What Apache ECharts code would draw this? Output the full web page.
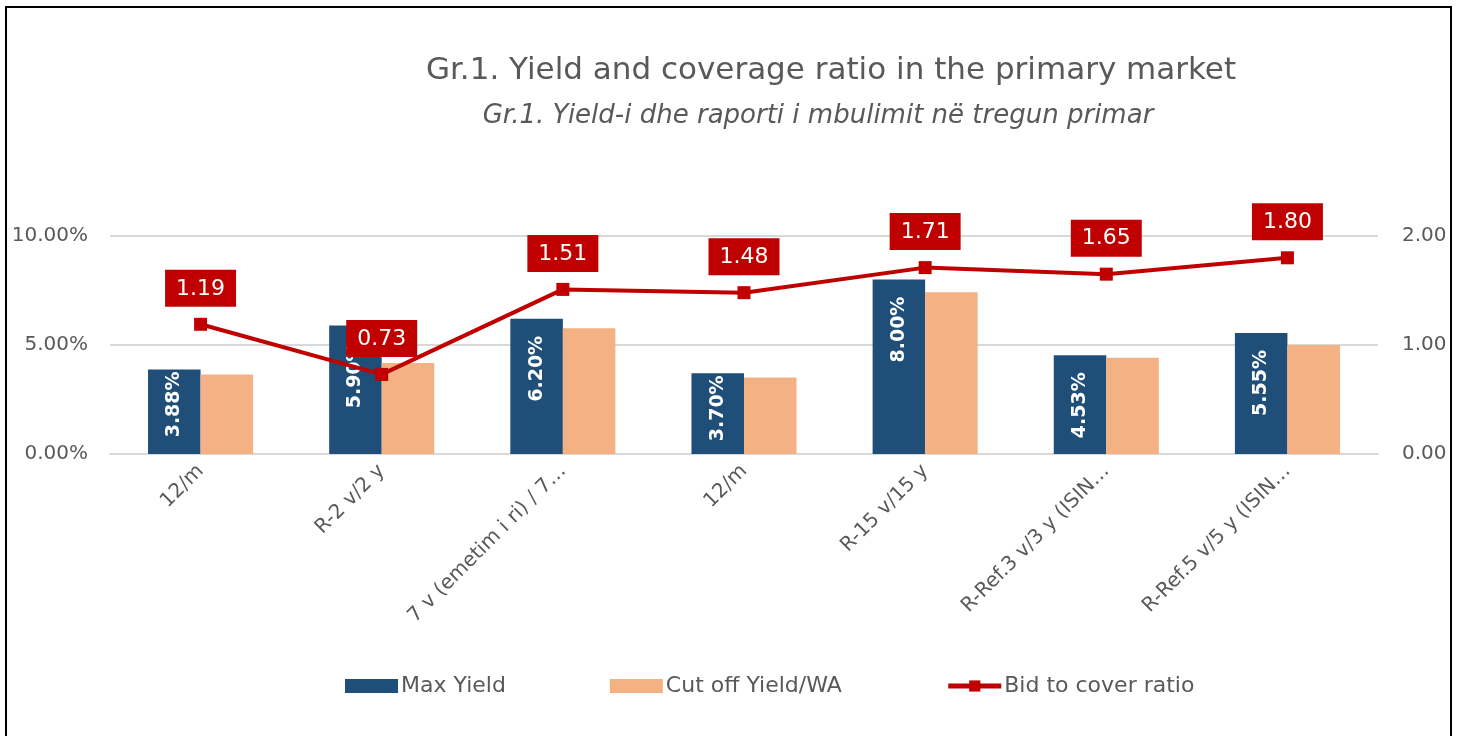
<!DOCTYPE html>
<html>
<head>
<meta charset="utf-8">
<title>Gr.1 Yield and coverage ratio</title>
<script src="https://cdn.jsdelivr.net/npm/echarts@6/dist/echarts.min.js"></script>
<style>
  html, body { margin: 0; padding: 0; background: #fff; }
  #chart { width: 1460px; height: 736px; }
</style>
</head>
<body>
<div id="chart"></div>
<script>
// emisionet
var categories = ['12/m', 'R-2 v/2 y', '7 v (emetim i ri) / 7…', '12/m', 'R-15 v/15 y', 'R-Ref.3 v/3 y (ISIN…', 'R-Ref.5 v/5 y (ISIN…'];
// yield ne %
var maxYield = [3.88, 5.90, 6.20, 3.70, 8.00, 4.53, 5.55];
var cutOffYield = [3.65, 4.17, 5.77, 3.51, 7.42, 4.42, 5.00];
// raporti i mbulimit
var bidToCover = [1.19, 0.73, 1.51, 1.48, 1.71, 1.65, 1.80];
var leftTicks = [0, 5, 10];
var rightTicks = [0, 1, 2];

var FONT = 'DejaVu Sans';
var grey = '#595959';

// etiketat brenda shtyllave - si ne excel, afer majes
var maxYieldData = maxYield.map(function (v) {
  return {
    value: v,
    label: { distance: v < 4 ? 2 : 17 }
  };
});

var myChart = echarts.init(document.getElementById('chart'));

var option = {
  animation: false,
  textStyle: { fontFamily: FONT },
  title: [
    {
      text: 'Gr.1. Yield and coverage ratio in the primary market',
      left: 826,
      top: 50,
      textAlign: 'center',
      textStyle: { fontFamily: FONT, fontSize: 31, fontWeight: 'normal', color: grey }
    },
    {
      text: 'Gr.1. Yield-i dhe raporti i mbulimit në tregun primar',
      left: 813,
      top: 98,
      textAlign: 'center',
      textStyle: { fontFamily: FONT, fontSize: 26, fontStyle: 'italic', fontWeight: 'normal', color: grey }
    }
  ],
  graphic: [
    {
      type: 'rect',
      shape: { x: 6, y: 7, width: 1445, height: 800 },
      style: { fill: 'none', stroke: '#000', lineWidth: 2 },
      silent: true
    }
  ],
  legend: {
    left: 340,
    top: 670,
    itemWidth: 53,
    itemHeight: 14,
    itemGap: 104,
    textStyle: { fontFamily: FONT, fontSize: 22, color: grey, padding: [0, 0, 0, -2] },
    data: [
      { name: 'Max Yield', icon: 'rect' },
      { name: 'Cut off Yield/WA', icon: 'rect' },
      { name: 'Bid to cover ratio', lineStyle: { width: 5 } }
    ]
  },
  grid: {
    left: 110,
    right: 82,
    top: 236,
    bottom: 282
  },
  xAxis: {
    type: 'category',
    data: categories,
    axisLine: { lineStyle: { color: '#D9D9D9', width: 2 } },
    axisTick: { show: false },
    axisLabel: {
      rotate: 45,
      interval: 0,
      margin: 14,
      fontFamily: FONT,
      fontSize: 20,
      color: grey
    }
  },
  yAxis: [
    {
      type: 'value',
      min: leftTicks[0],
      max: leftTicks[leftTicks.length - 1],
      interval: leftTicks[1] - leftTicks[0],
      axisLine: { show: false },
      axisTick: { show: false },
      splitLine: { lineStyle: { color: '#D9D9D9', width: 2 } },
      axisLabel: {
        margin: 22,
        fontFamily: FONT,
        fontSize: 20,
        color: grey,
        formatter: function (v) { return v.toFixed(2) + '%'; }
      }
    },
    {
      type: 'value',
      min: rightTicks[0],
      max: rightTicks[rightTicks.length - 1],
      interval: rightTicks[1] - rightTicks[0],
      axisLine: { show: false },
      axisTick: { show: false },
      splitLine: { show: false },
      axisLabel: {
        margin: 24,
        fontFamily: FONT,
        fontSize: 20,
        color: grey,
        formatter: function (v) { return v.toFixed(2); }
      }
    }
  ],
  series: [
    {
      name: 'Max Yield',
      type: 'bar',
      data: maxYieldData,
      barGap: '0%',
      barCategoryGap: '42%',
      itemStyle: { color: '#1F4E79' },
      label: {
        show: true,
        position: 'insideTop',
        rotate: 90,
        align: 'right',
        verticalAlign: 'middle',
        color: '#fff',
        fontFamily: FONT,
        fontWeight: 'bold',
        fontSize: 19,
        formatter: function (p) { return p.value.toFixed(2) + '%'; }
      }
    },
    {
      name: 'Cut off Yield/WA',
      type: 'bar',
      data: cutOffYield,
      itemStyle: { color: '#F4B183' }
    },
    {
      name: 'Bid to cover ratio',
      type: 'line',
      yAxisIndex: 1,
      data: bidToCover,
      symbol: 'rect',
      symbolSize: 13,
      z: 5,
      lineStyle: { color: '#C00000', width: 4 },
      itemStyle: { color: '#C00000' },
      label: {
        show: true,
        position: 'top',
        distance: 11,
        color: '#fff',
        backgroundColor: '#C00000',
        padding: [8, 11, 7, 11],
        fontFamily: FONT,
        fontSize: 22,
        formatter: function (p) { return p.value.toFixed(2); }
      }
    }
  ]
};

myChart.setOption(option);
</script>
</body>
</html>
